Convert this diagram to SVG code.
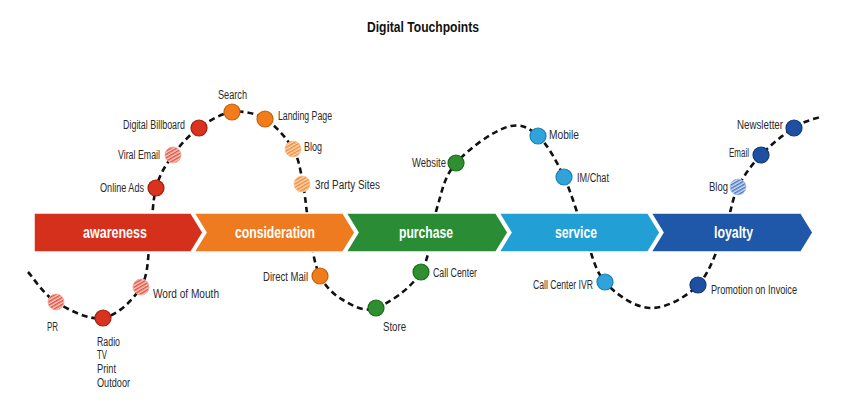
<svg xmlns="http://www.w3.org/2000/svg" width="844" height="409" viewBox="0 0 844 409">
<style>
.lbl{font-family:"Liberation Sans",Arial,sans-serif;font-size:12px;fill:#2a2a2a;}
.stg{font-family:"Liberation Sans",Arial,sans-serif;font-size:16px;font-weight:bold;fill:#ffffff;}
.ttl{font-family:"Liberation Sans",Arial,sans-serif;font-size:14px;font-weight:bold;fill:#111111;}
.chev{stroke:#ffffff;stroke-width:1.5;}
.red{fill:#D8331E;stroke:#A81C10;stroke-width:1.2;}
.org{fill:#F07C1C;stroke:#C95E0C;stroke-width:1.2;}
.grn{fill:#2E8E30;stroke:#1B6A1E;stroke-width:1.2;}
.lbl2{fill:#2FA3DA;stroke:#1A7FB5;stroke-width:1.2;}
.dbl{fill:#1F4FA0;stroke:#123A7A;stroke-width:1.2;}
.hred{fill:url(#hRed);stroke:#F0A8A0;stroke-width:0.8;}
.horg{fill:url(#hOrg);stroke:#F8C090;stroke-width:0.8;}
.hblu{fill:url(#hBlu);stroke:#A8C0E8;stroke-width:0.8;}
.wave{fill:none;stroke:#111111;stroke-width:2.6;stroke-dasharray:6 4;}
</style>
<defs>
<pattern id="hRed" patternUnits="userSpaceOnUse" width="3" height="3" patternTransform="rotate(-30)">
<rect width="3" height="3" fill="#F8CFC8"/><rect width="3" height="1.5" fill="#E2503E"/>
</pattern>
<pattern id="hOrg" patternUnits="userSpaceOnUse" width="3" height="3" patternTransform="rotate(-30)">
<rect width="3" height="3" fill="#FCD9B4"/><rect width="3" height="1.5" fill="#F28A3A"/>
</pattern>
<pattern id="hBlu" patternUnits="userSpaceOnUse" width="3" height="3" patternTransform="rotate(-30)">
<rect width="3" height="3" fill="#D2DEF2"/><rect width="3" height="1.5" fill="#4A78C0"/>
</pattern>
</defs>
<rect width="844" height="409" fill="#ffffff"/>
<text class="ttl" x="367" y="32" textLength="112" lengthAdjust="spacingAndGlyphs">Digital Touchpoints</text>

<g id="connectors">
<path class="wave" d="M28 272 C32.7 277 43.5 294.3 56 302 C68.5 309.7 88.8 320.5 103 318 C117.2 315.5 133.2 300 141 287 C148.8 274 147.5 256.5 150 240 C152.5 223.5 152.2 202.2 156 188 C159.8 173.8 165.8 165 173 155 C180.2 145 189.2 135 199 128 C208.8 121 221 113.5 232 112 C243 110.5 254.8 113 265 119 C275.2 125 286.7 138.2 293 149 C299.3 159.8 300.2 169.7 303 184 C305.8 198.3 307.2 219.7 310 235 C312.8 250.3 314.5 265.2 320 276 C325.5 286.8 333.7 294.7 343 300 C352.3 305.3 363 312.7 376 308 C389 303.3 410.8 288.7 421 272 C431.2 255.3 431.5 226.2 437 208 C442.5 189.8 444.3 176.5 456 163 C467.7 149.5 492.8 131.3 507 127 C521.2 122.7 528.5 127.7 538 136 C547.5 144.3 556.3 160.7 564 177 C571.7 193.3 578.2 217.5 585 235 C591.8 252.5 594.2 269.8 605 282 C615.8 294.2 634.5 307.5 650 308 C665.5 308.5 685.7 297.7 698 285 C710.3 272.3 717.3 248.3 724 232 C730.7 215.7 731.7 199.5 738 187 C744.3 174.5 751.8 164.8 761 155 C770.2 145.2 783.3 134.7 793 128 C802.7 121.3 815.5 118.8 820 117"/>
</g>

<g id="stages">
<g id="stage-awareness">
<path class="chev" fill="#D4301C" d="M34 213 H191 L203 232.5 L191 252 H34 Z"/>
<text class="stg" x="83" y="238" textLength="64" lengthAdjust="spacingAndGlyphs">awareness</text>
</g>
<g id="stage-consideration">
<path class="chev" fill="#EE7B1F" d="M194 213 H343 L355 232.5 L343 252 H194 L206 232.5 Z"/>
<text class="stg" x="235" y="238" textLength="80" lengthAdjust="spacingAndGlyphs">consideration</text>
</g>
<g id="stage-purchase">
<path class="chev" fill="#2A8C35" d="M346 213 H496 L508 232.5 L496 252 H346 L358 232.5 Z"/>
<text class="stg" x="399" y="238" textLength="54" lengthAdjust="spacingAndGlyphs">purchase</text>
</g>
<g id="stage-service">
<path class="chev" fill="#22A0D6" d="M499 213 H648 L660 232.5 L648 252 H499 L511 232.5 Z"/>
<text class="stg" x="555" y="238" textLength="42" lengthAdjust="spacingAndGlyphs">service</text>
</g>
<g id="stage-loyalty">
<path class="chev" fill="#1F58A8" d="M651 213 H801 L813 232.5 L801 252 H651 L663 232.5 Z"/>
<text class="stg" x="714" y="238" textLength="39" lengthAdjust="spacingAndGlyphs">loyalty</text>
</g>
</g>

<g id="touchpoints">
<g id="tp-online-ads"><circle class="red" cx="156" cy="188" r="8"/><text class="lbl" x="100" y="192" textLength="44" lengthAdjust="spacingAndGlyphs">Online Ads</text></g>
<g id="tp-viral-email"><circle class="hred" cx="173" cy="155" r="8"/><text class="lbl" x="118" y="159" textLength="42" lengthAdjust="spacingAndGlyphs">Viral Email</text></g>
<g id="tp-digital-billboard"><circle class="red" cx="199" cy="128" r="8"/><text class="lbl" x="123" y="129" textLength="62" lengthAdjust="spacingAndGlyphs">Digital Billboard</text></g>
<g id="tp-search"><circle class="org" cx="232" cy="112" r="8"/><text class="lbl" x="218" y="99" textLength="29" lengthAdjust="spacingAndGlyphs">Search</text></g>
<g id="tp-landing-page"><circle class="org" cx="265" cy="119" r="8"/><text class="lbl" x="278" y="120" textLength="54" lengthAdjust="spacingAndGlyphs">Landing Page</text></g>
<g id="tp-blog-c"><circle class="horg" cx="293" cy="149" r="8"/><text class="lbl" x="304" y="151" textLength="18" lengthAdjust="spacingAndGlyphs">Blog</text></g>
<g id="tp-3rd-party"><circle class="horg" cx="302" cy="184" r="8"/><text class="lbl" x="315" y="189" textLength="65" lengthAdjust="spacingAndGlyphs">3rd Party Sites</text></g>
<g id="tp-pr"><circle class="hred" cx="56" cy="302" r="8"/><text class="lbl" x="47" y="331" textLength="11" lengthAdjust="spacingAndGlyphs">PR</text></g>
<g id="tp-radio"><circle class="red" cx="103" cy="318" r="8"/>
<text class="lbl" x="97" y="346" textLength="23" lengthAdjust="spacingAndGlyphs">Radio</text>
<text class="lbl" x="97" y="359" textLength="10" lengthAdjust="spacingAndGlyphs">TV</text>
<text class="lbl" x="97" y="373" textLength="19" lengthAdjust="spacingAndGlyphs">Print</text>
<text class="lbl" x="97" y="387" textLength="33" lengthAdjust="spacingAndGlyphs">Outdoor</text></g>
<g id="tp-word-of-mouth"><circle class="hred" cx="141" cy="287" r="8"/><text class="lbl" x="153" y="298" textLength="66" lengthAdjust="spacingAndGlyphs">Word of Mouth</text></g>
<g id="tp-direct-mail"><circle class="org" cx="320" cy="276" r="8"/><text class="lbl" x="263" y="281" textLength="45" lengthAdjust="spacingAndGlyphs">Direct Mail</text></g>
<g id="tp-store"><circle class="grn" cx="376" cy="308" r="8"/><text class="lbl" x="383" y="331" textLength="23" lengthAdjust="spacingAndGlyphs">Store</text></g>
<g id="tp-call-center"><circle class="grn" cx="421" cy="272" r="8"/><text class="lbl" x="433" y="277" textLength="44" lengthAdjust="spacingAndGlyphs">Call Center</text></g>
<g id="tp-website"><circle class="grn" cx="456" cy="163" r="8"/><text class="lbl" x="412" y="167" textLength="34" lengthAdjust="spacingAndGlyphs">Website</text></g>
<g id="tp-mobile"><circle class="lbl2" cx="538" cy="136" r="8"/><text class="lbl" x="549" y="139" textLength="30" lengthAdjust="spacingAndGlyphs">Mobile</text></g>
<g id="tp-im-chat"><circle class="lbl2" cx="564" cy="177" r="8"/><text class="lbl" x="577" y="182" textLength="32" lengthAdjust="spacingAndGlyphs">IM/Chat</text></g>
<g id="tp-call-center-ivr"><circle class="lbl2" cx="605" cy="282" r="8"/><text class="lbl" x="533" y="289" textLength="60" lengthAdjust="spacingAndGlyphs">Call Center IVR</text></g>
<g id="tp-promotion"><circle class="dbl" cx="698" cy="285" r="8"/><text class="lbl" x="711" y="294" textLength="86" lengthAdjust="spacingAndGlyphs">Promotion on Invoice</text></g>
<g id="tp-blog-l"><circle class="hblu" cx="738" cy="187" r="8"/><text class="lbl" x="709" y="191" textLength="19" lengthAdjust="spacingAndGlyphs">Blog</text></g>
<g id="tp-email"><circle class="dbl" cx="761" cy="155" r="8"/><text class="lbl" x="729" y="157" textLength="20" lengthAdjust="spacingAndGlyphs">Email</text></g>
<g id="tp-newsletter"><circle class="dbl" cx="794" cy="128" r="8"/><text class="lbl" x="737" y="129" textLength="46" lengthAdjust="spacingAndGlyphs">Newsletter</text></g>
</g>
</svg>
